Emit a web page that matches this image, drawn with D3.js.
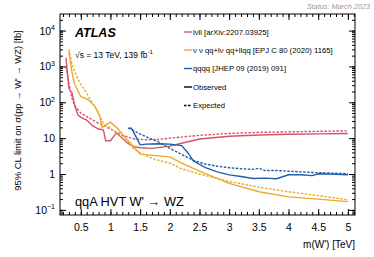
<!DOCTYPE html>
<html>
<head>
<meta charset="utf-8">
<script src="https://cdn.jsdelivr.net/npm/d3@7"></script>
<style>
  body { margin: 0; background: #fff; }
  svg { display: block; font-family: "Liberation Sans", Arial, sans-serif; }
</style>
</head>
<body>
<svg id="chart"></svg>
<script>
// masses in TeV, limits in fb
var lvllObsMass = [0.25, 0.3, 0.33, 0.35, 0.4, 0.45, 0.5, 0.6, 0.7, 0.8, 0.88, 0.92, 1.0, 1.1, 1.2, 1.3, 1.4, 1.5, 1.7, 2.0, 2.2, 2.5, 3.0, 3.5, 4.0, 4.5, 5.0];
var lvllObs     = [1750, 250, 200, 190, 80, 45, 38, 32, 22, 18, 17, 8.5, 8.5, 14, 10, 7, 5.8, 5.4, 5.2, 6, 7.2, 9.5, 11.3, 12.3, 12.8, 13.2, 13.5];
var lvllExpMass = [0.25, 0.3, 0.35, 0.4, 0.5, 0.6, 0.7, 0.8, 0.9, 1.0, 1.2, 1.4, 1.6, 1.8, 2.0, 2.5, 3.0, 3.5, 4.0, 4.5, 5.0];
var lvllExp     = [1000, 350, 130, 80, 50, 40, 32, 26, 22, 18, 12, 9.5, 9, 9.2, 10, 12, 13.5, 14.5, 15, 15.5, 16];

var vqqObsMass = [0.3, 0.35, 0.39, 0.5, 0.63, 0.74, 0.82, 0.86, 0.9, 1.0, 1.1, 1.2, 1.3, 1.4, 1.5, 1.8, 2.0, 2.2, 2.5, 3.0, 3.5, 4.0, 4.5, 5.0];
var vqqObs     = [2600, 730, 340, 145, 117, 77, 41, 20, 22, 28, 20, 13, 8.5, 5.5, 3.6, 3.2, 3.0, 2.0, 1.2, 0.55, 0.32, 0.23, 0.2, 0.17];
var vqqExpMass = [0.3, 0.35, 0.43, 0.5, 0.6, 0.7, 0.77, 0.88, 1.0, 1.1, 1.2, 1.3, 1.4, 1.5, 1.7, 2.0, 2.2, 2.5, 3.0, 3.5, 4.0, 4.5, 5.0];
var vqqExp     = [3000, 1200, 520, 320, 180, 90, 62, 26, 19, 14, 10.5, 7.5, 5, 3.9, 2.7, 2.0, 1.4, 1.0, 0.62, 0.43, 0.32, 0.25, 0.19];

var qqqqObsMass = [1.3, 1.35, 1.37, 1.5, 1.6, 1.8, 2.0, 2.2, 2.3, 2.4, 2.6, 2.8, 3.0, 3.2, 3.4, 3.6, 3.8, 4.0, 4.2, 4.4, 4.5, 4.7, 5.0];
var qqqqObs     = [19, 19, 17, 6.5, 6.8, 7.0, 6.8, 6.2, 4, 2.3, 1.5, 1.15, 0.95, 0.85, 0.75, 0.77, 0.74, 0.95, 0.95, 0.9, 1.02, 1.0, 0.95];
var qqqqExpMass = [1.3, 1.4, 1.5, 1.6, 1.8, 2.0, 2.2, 2.4, 2.6, 2.8, 3.0, 3.2, 3.4, 3.5, 3.6, 3.8, 4.0, 4.2, 4.4, 4.6, 4.8, 5.0];
var qqqqExp     = [19, 16, 13, 11, 8, 5.2, 3.5, 2.4, 1.9, 1.65, 1.5, 1.4, 1.35, 1.45, 1.25, 1.25, 1.2, 1.15, 1.1, 1.08, 1.05, 1.02];

var xTickValues = [0.5, 1, 1.5, 2, 2.5, 3, 3.5, 4, 4.5, 5];
var yTickValues = [0.1, 1, 10, 100, 1000, 10000];
var legendLabels = ["lνll [arXiv:2207.03925]", "ν ν qq+lν qq+llqq [EPJ C 80 (2020) 1165]", "qqqq [JHEP 09 (2019) 091]", "Observed", "Expected"];

var red = "#d4536b", orange = "#e9aa2c", blue = "#1f5ea8";

var svgWidth = 374, svgHeight = 257;
var margin = { top: 14, right: 355, bottom: 215, left: 60 }; // frame edges in px

var svg = d3.select("#chart")
    .attr("width", svgWidth)
    .attr("height", svgHeight);

var x = d3.scaleLinear().domain([0.15, 5.12]).range([margin.left, margin.right]);
var y = d3.scaleLog().domain([0.072, 2.9e4]).range([margin.bottom, margin.top]);

// clip for curves
svg.append("clipPath").attr("id", "clip")
    .append("rect").attr("x", margin.left).attr("y", margin.top)
    .attr("width", margin.right - margin.left).attr("height", margin.bottom - margin.top);

var series = [
    {m: lvllObsMass, v: lvllObs, c: red, dash: null},
    {m: lvllExpMass, v: lvllExp, c: red, dash: "2.5,1.5"},
    {m: vqqObsMass, v: vqqObs, c: orange, dash: null},
    {m: vqqExpMass, v: vqqExp, c: orange, dash: "2.5,1.5"},
    {m: qqqqObsMass, v: qqqqObs, c: blue, dash: null},
    {m: qqqqExpMass, v: qqqqExp, c: blue, dash: "2.5,1.5"}
];

var line = d3.line()
    .x(function(d) { return x(d[0]); })
    .y(function(d) { return y(d[1]); });

var g = svg.append("g").attr("clip-path", "url(#clip)");
series.forEach(function(s) {
    g.append("path")
        .datum(d3.zip(s.m, s.v))
        .attr("fill", "none")
        .attr("stroke", s.c)
        .attr("stroke-width", 1.4)
        .attr("stroke-dasharray", s.dash)
        .attr("d", line);
});

// axes, ticks inside on all sides
var minorX = d3.range(2, 52).map(function(i) { return i / 10; }).filter(function(v) { return x(v) <= margin.right; });
var minorY = [];
for (var e = -2; e <= 4; e++) {
    for (var k = 1; k < 10; k++) {
        var v = k * Math.pow(10, e);
        if (v >= 0.072 && v <= 2.9e4) minorY.push(v);
    }
}

var bottomAxis = d3.axisBottom(x).tickValues(xTickValues).tickSize(-6).tickPadding(9)
    .tickFormat(function(d) { return d; });
var topAxis = d3.axisTop(x).tickValues(xTickValues).tickSize(-6).tickFormat("");
var leftAxis = d3.axisLeft(y).tickValues(yTickValues).tickSize(-6).tickFormat("");
var rightAxis = d3.axisRight(y).tickValues(yTickValues).tickSize(-6).tickFormat("");

function styleAxis(sel) {
    sel.select(".domain").remove();
    sel.selectAll("line").attr("stroke", "#000");
    sel.selectAll("text").attr("font-size", 10.5).attr("fill", "#000")
        .attr("font-family", "Liberation Sans, Arial, sans-serif");
}

svg.append("g").attr("transform", "translate(0," + margin.bottom + ")").call(bottomAxis).call(styleAxis);
svg.append("g").attr("transform", "translate(0," + margin.top + ")").call(topAxis).call(styleAxis);
svg.append("g").attr("transform", "translate(" + margin.left + ",0)").call(leftAxis).call(styleAxis);
svg.append("g").attr("transform", "translate(" + margin.right + ",0)").call(rightAxis).call(styleAxis);

svg.append("g").attr("transform", "translate(0," + margin.bottom + ")")
    .call(d3.axisBottom(x).tickValues(minorX).tickSize(-3).tickFormat("")).call(styleAxis);
svg.append("g").attr("transform", "translate(0," + margin.top + ")")
    .call(d3.axisTop(x).tickValues(minorX).tickSize(-3).tickFormat("")).call(styleAxis);
svg.append("g").attr("transform", "translate(" + margin.left + ",0)")
    .call(d3.axisLeft(y).tickValues(minorY).tickSize(-3).tickFormat("")).call(styleAxis);
svg.append("g").attr("transform", "translate(" + margin.right + ",0)")
    .call(d3.axisRight(y).tickValues(minorY).tickSize(-3).tickFormat("")).call(styleAxis);

// frame
svg.append("rect")
    .attr("x", margin.left).attr("y", margin.top)
    .attr("width", margin.right - margin.left).attr("height", margin.bottom - margin.top)
    .attr("fill", "none").attr("stroke", "#000").attr("stroke-width", 1);

// y tick labels with exponents
var yLabels = svg.append("g");
yTickValues.forEach(function(v) {
    var t = yLabels.append("text")
        .attr("x", margin.left - 5)
        .attr("y", y(v) + 4)
        .attr("text-anchor", "end")
        .attr("font-size", 10.5);
    var p = Math.round(Math.log10(v));
    if (p === 0) t.text("1");
    else if (p === 1) t.text("10");
    else {
        t.append("tspan").text("10");
        t.append("tspan").attr("dy", -4.5).attr("font-size", 7).text(p < 0 ? "\u2212" + (-p) : p);
    }
});

// axis titles
svg.append("text")
    .attr("transform", "translate(21," + ((margin.top + margin.bottom) / 2 - 4) + ") rotate(-90)")
    .attr("text-anchor", "middle")
    .attr("font-size", 9.4)
    .text("95% CL limit on σ(pp → W' → WZ) [fb]");

svg.append("text")
    .attr("x", margin.right).attr("y", 248)
    .attr("text-anchor", "end")
    .attr("font-size", 10)
    .text("m(W') [TeV]");

svg.append("text")
    .attr("x", 370).attr("y", 9)
    .attr("text-anchor", "end")
    .attr("font-size", 7.3)
    .attr("font-style", "italic")
    .attr("fill", "#999")
    .text("Status: March 2023");

svg.append("text")
    .attr("x", 75).attr("y", 37)
    .attr("font-size", 12.5)
    .attr("font-weight", "bold")
    .attr("font-style", "italic")
    .text("ATLAS");

var lumi = svg.append("text").attr("x", 75).attr("y", 58).attr("font-size", 8.5);
lumi.append("tspan").text("√s = 13 TeV, 139 fb");
lumi.append("tspan").attr("dy", -3.8).attr("font-size", 6).text("-1");

svg.append("text")
    .attr("x", 75).attr("y", 206)
    .attr("font-size", 12.8)
    .text("qqA HVT W' → WZ");

// legend
var legendColors = [red, orange, blue, "#000", "#000"];
var legendDash = [null, null, null, null, "2.5,1.5"];
var legendY = [32, 50, 68.5, 87, 105.5];
var legend = svg.append("g");
legendLabels.forEach(function(lbl, i) {
    legend.append("line")
        .attr("x1", 184).attr("x2", 192)
        .attr("y1", legendY[i]).attr("y2", legendY[i])
        .attr("stroke", legendColors[i])
        .attr("stroke-width", 1.4)
        .attr("stroke-dasharray", legendDash[i]);
    legend.append("text")
        .attr("x", 193).attr("y", legendY[i] + 2.7)
        .attr("font-size", 7.7)
        .text(lbl);
});
</script>
</body>
</html>
